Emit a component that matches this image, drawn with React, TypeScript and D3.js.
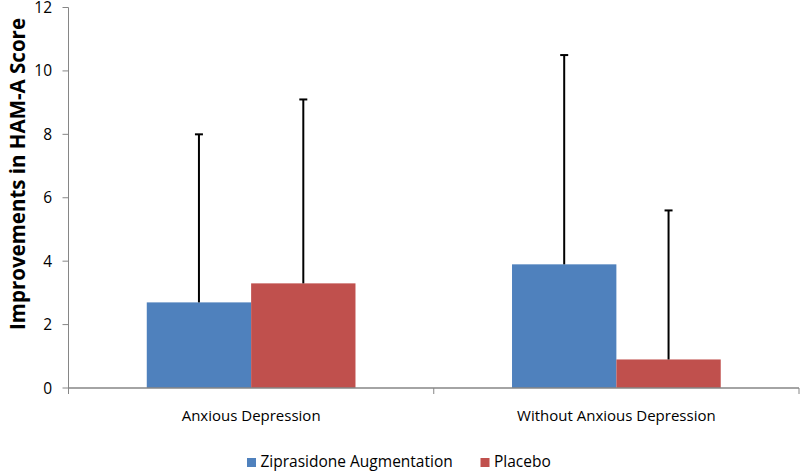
import React from "react";
import * as d3 from "d3";

const categories = ["Anxious Depression", "Without Anxious Depression"];
const series = ["Ziprasidone Augmentation", "Placebo"];
const ziprasidone = [2.7, 3.9];
const placebo = [3.3, 0.9];
const ziprasidoneErr = [5.3, 6.6];
const placeboErr = [5.8, 4.7];
const yTicks = [0, 2, 4, 6, 8, 10, 12];
const colors = ["#4F81BD", "#C0504D"];

const W = 800;
const H = 471;
const FONT = "'Open Sans', 'Noto Sans', sans-serif";

export default function App() {
  const values = [ziprasidone, placebo];
  const errs = [ziprasidoneErr, placeboErr];
  const y = d3.scaleLinear().domain([0, 12]).range([388, 7.5]);
  const x0 = d3.scaleBand<string>().domain(categories).range([68.5, 799]).paddingInner(0).paddingOuter(0);
  const x1 = d3.scaleBand<string>().domain(series).range([0, x0.bandwidth()]).paddingInner(0).paddingOuter(0.75);
  const axisColor = "#868686";
  const xLeft = 68.5;
  const xRight = 799;

  return (
    <svg width={W} height={H} style={{ position: "absolute", left: 0, top: 0, background: "#fff" }}>
      {categories.map((c, ci) =>
        series.map((s, si) => {
          const v = values[si][ci];
          const bx = (x0(c) ?? 0) + (x1(s) ?? 0);
          return (
            <rect key={c + s} x={bx} y={y(v)} width={x1.bandwidth()} height={y(0) - y(v)} fill={colors[si]} />
          );
        })
      )}
      {categories.map((c, ci) =>
        series.map((s, si) => {
          const v = values[si][ci];
          const e = errs[si][ci];
          const cx = (x0(c) ?? 0) + (x1(s) ?? 0) + x1.bandwidth() / 2;
          return (
            <g key={"e" + c + s} stroke="#000" strokeWidth={2}>
              <line x1={cx} x2={cx} y1={y(v)} y2={y(v + e)} />
              <line x1={cx - 4} x2={cx + 4} y1={y(v + e)} y2={y(v + e)} />
            </g>
          );
        })
      )}
      <line x1={xLeft} x2={xLeft} y1={y(12)} y2={y(0)} stroke={axisColor} strokeWidth={1} />
      {yTicks.map((t) => (
        <g key={t}>
          <line x1={xLeft - 6} x2={xLeft} y1={y(t)} y2={y(t)} stroke={axisColor} strokeWidth={1} />
          <text x={52} y={y(t)} dy="0.36em" textAnchor="end" fontFamily={FONT} fontSize={15.5} fill="#000">
            {t}
          </text>
        </g>
      ))}
      <line x1={xLeft} x2={xRight} y1={y(0)} y2={y(0)} stroke={axisColor} strokeWidth={1.5} />
      {[xLeft, ...categories.map((c) => (x0(c) ?? 0) + x0.bandwidth())].map((tx, i) => (
        <line key={"xt" + i} x1={tx} x2={tx} y1={y(0)} y2={y(0) + 6} stroke={axisColor} strokeWidth={1} />
      ))}
      {categories.map((c) => (
        <text key={"xl" + c} x={(x0(c) ?? 0) + x0.bandwidth() / 2} y={421} textAnchor="middle" fontFamily={FONT} fontSize={15} fill="#000">
          {c}
        </text>
      ))}
      <text transform="translate(25,174) rotate(-90)" textAnchor="middle" fontFamily={FONT} fontSize={20.5} fontWeight="bold" fill="#000">
        Improvements in HAM-A Score
      </text>
      <rect x={247} y={458} width={9} height={9} fill={colors[0]} />
      <text x={260.5} y={467} fontFamily={FONT} fontSize={15.5} fill="#000">{series[0]}</text>
      <rect x={480.5} y={458} width={9} height={9} fill={colors[1]} />
      <text x={494} y={467} fontFamily={FONT} fontSize={15.5} fill="#000">{series[1]}</text>
    </svg>
  );
}
